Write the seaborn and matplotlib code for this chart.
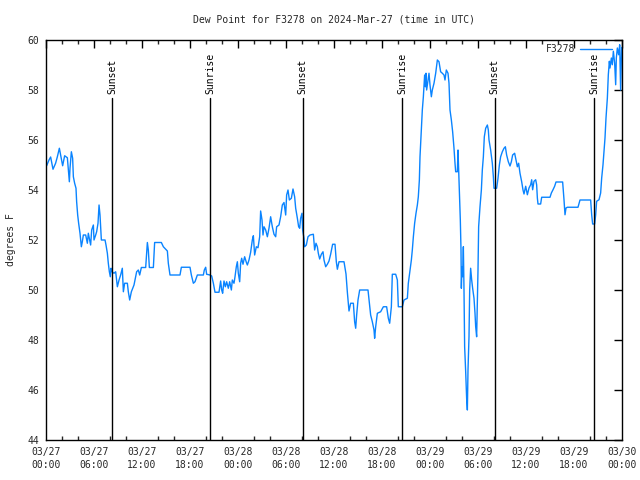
import matplotlib
matplotlib.use("Agg")
import matplotlib.pyplot as plt
import seaborn as sns
import pandas as pd

# hours since 2024-03-27 00:00 UTC
hours = [0.08, 0.375, 0.58, 0.875, 1.2, 1.42, 1.67, 1.83, 2.08, 2.33, 2.67, 2.92, 3.0, 3.17, 3.33, 3.42, 3.58, 3.75,
         3.83, 3.96, 4.08, 4.25, 4.42, 4.54, 4.67, 4.96, 5.17, 5.29, 5.58, 5.71, 5.92, 6.0, 6.21, 6.33, 6.5, 6.63,
         6.75, 6.92, 7.38, 7.5, 7.67, 7.79, 7.92, 8.04, 8.13, 8.25, 8.5, 8.71, 8.92, 9.13, 9.33, 9.54, 9.67, 9.83,
         10.17, 10.29, 10.46, 10.67, 11.0, 11.33, 11.54, 11.71, 11.92, 12.46, 12.67, 12.79, 12.92, 13.42, 13.58,
         14.42, 14.67,
         15.17, 15.29, 15.5, 16.75, 16.92, 18.0, 18.17, 18.42, 18.625, 18.92, 19.67, 19.79, 19.96, 20.08, 20.5,
         20.71, 20.92, 21.125, 21.625, 21.83, 21.96, 22.08, 22.25, 22.42, 22.58, 22.79, 22.96, 23.17, 23.29, 23.5,
         23.625, 23.79, 23.92, 24.04, 24.21, 24.33, 24.46, 24.625, 24.83, 25.04, 25.17, 25.375, 25.58, 25.79,
         25.92, 26.08, 26.29, 26.5, 26.71, 26.83, 27.0, 27.125, 27.25, 27.46, 27.67, 27.875, 28.08, 28.29, 28.5,
         28.71, 28.83, 29.125, 29.33, 29.54,
         29.75, 29.96, 30.08, 30.25, 30.42, 30.67, 30.875, 31.08, 31.21, 31.42, 31.58, 31.71, 31.83, 32.0, 32.08,
         32.25, 32.33, 32.54, 32.75, 33.0, 33.42, 33.58, 33.75, 33.92, 34.04, 34.21, 34.42, 34.625, 34.75, 34.96,
         35.17, 35.375, 35.58, 35.83, 36.125, 36.29, 36.42, 36.625, 37.25, 37.5, 37.67, 37.875, 38.08, 38.42,
         38.58, 38.71, 38.83, 39.0, 39.21, 40.25, 40.42, 40.58, 40.79, 41.0, 41.08, 41.21, 41.42, 41.83, 42.17,
         42.58, 42.79, 42.96, 43.17, 43.29, 43.71, 43.92, 44.04, 44.54,
         44.75, 45.17, 45.29, 45.5, 45.67, 45.79, 45.92, 46.08, 46.25, 46.42, 46.54, 46.67, 46.75, 46.92, 47.04,
         47.17, 47.33, 47.42, 47.5, 47.58, 47.75, 47.875, 48.0, 48.17, 48.29, 48.5, 48.71, 48.92, 49.125, 49.33,
         49.54, 49.75, 49.875, 50.04, 50.25, 50.375, 50.5, 50.67, 50.83, 51.0, 51.125, 51.21, 51.42, 51.5, 51.58,
         51.67, 51.79, 51.875, 51.92, 52.0, 52.08, 52.17, 52.25, 52.33, 52.46, 52.58, 52.67, 52.75, 52.875, 52.96,
         53.08, 53.21, 53.33, 53.5, 53.625, 53.71, 53.83, 53.92, 54.0, 54.08, 54.25, 54.42, 54.54, 54.67, 54.79,
         54.96, 55.17, 55.29, 55.375, 55.58, 55.79, 55.92, 56.0, 56.33, 56.5, 56.67, 56.83, 57.04, 57.25, 57.42,
         57.58, 57.79, 58.0, 58.17, 58.33, 58.58, 58.75, 58.92, 59.08, 59.25, 59.46, 59.625,
         59.75, 59.96, 60.17, 60.375, 60.58, 60.71, 60.83, 61.0, 61.21, 61.33, 61.42, 61.5, 61.83, 61.96, 63.0,
         63.17, 63.375, 63.58, 63.75, 64.58, 64.75, 64.875, 65.0, 65.17, 66.5, 66.75, 68.08, 68.21, 68.33, 68.58,
         68.71, 68.83, 69.125, 69.33, 69.46, 69.625, 69.75, 69.875, 70.0, 70.17, 70.29, 70.42, 70.5, 70.67, 70.79,
         70.92, 71.08, 71.21, 71.29, 71.42, 71.58, 71.71, 71.83, 71.95]

dewpoint = [54.97, 55.2, 55.32, 54.83, 55.07, 55.33, 55.67, 55.4, 54.97, 55.37, 55.29, 54.33, 54.87, 55.53, 55.27,
            54.53, 54.27, 54.07, 53.53, 53.0, 52.67, 52.27, 51.73, 51.93, 52.2, 52.2, 51.87, 52.27, 51.8, 52.4,
            52.6, 52.0, 52.2, 52.33, 52.67, 53.4, 53.0, 52.0, 52.0, 51.8, 51.47, 51.07, 50.73, 50.53, 50.87, 50.73,
            50.67, 50.73, 50.13, 50.4, 50.6, 50.87, 49.93, 50.27, 50.27, 49.93, 49.6, 49.93, 50.2, 50.73, 50.8,
            50.6, 50.9, 50.9, 51.9, 51.6, 50.9, 50.9, 51.9, 51.9, 51.73,
            51.56, 51.07, 50.6, 50.6, 50.91, 50.91, 50.6, 50.27, 50.33, 50.6, 50.6, 50.8, 50.91, 50.63, 50.6,
            50.56, 50.27, 49.91, 49.91, 50.36, 50.0, 49.87, 50.36, 50.13, 50.33, 50.07, 50.33, 50.0, 50.4, 50.27,
            50.53, 50.93, 51.13, 50.67, 50.33, 51.07, 51.27, 51.03, 51.33, 51.11, 51.0, 51.2, 51.51, 52.0,
            52.17, 51.4, 51.73, 51.69, 52.13, 53.16, 52.8, 52.2, 52.53, 52.4, 52.13, 52.47, 52.93, 52.53, 52.23,
            52.13, 52.53, 52.6, 52.93, 53.4,
            53.5, 53.0, 53.8, 54.0, 53.6, 53.67, 54.04, 53.73, 53.27, 52.87, 52.53, 52.47, 52.87, 53.07, 52.4,
            52.07, 51.73, 51.8, 52.13, 52.2, 52.23, 51.6, 51.87, 51.73, 51.47, 51.24, 51.43, 51.53, 51.2, 50.93,
            51.03, 51.16, 51.43, 51.83, 51.83, 51.13, 50.83, 51.13, 51.13, 50.64, 49.91, 49.16, 49.47, 49.47,
            48.73, 48.47, 49.0, 49.6, 50.0, 50.0, 49.47, 49.0, 48.73, 48.4, 48.07, 48.53, 49.07, 49.13, 49.33,
            49.33, 48.87, 48.67, 49.33, 50.63, 50.63, 50.4, 49.33, 49.33,
            49.6, 49.67, 50.27, 50.8, 51.2, 51.6, 52.13, 52.67, 53.07, 53.4, 53.73, 54.4, 55.33, 56.4, 57.2,
            57.73, 58.6, 58.13, 58.67, 58.0, 58.4, 58.67, 58.2, 57.73, 58.0, 58.27, 58.67, 59.2, 59.13, 58.73,
            58.67, 58.6, 58.4, 58.8, 58.67, 58.27, 57.2, 56.8, 56.33, 55.67, 55.07, 54.73, 54.73, 55.6, 54.8,
            54.0, 52.8, 51.6, 50.07, 50.93, 50.53, 51.73, 50.0, 47.73, 46.73, 45.67, 45.2, 46.8, 48.13, 50.0,
            50.87, 50.4, 50.07, 49.67, 49.07, 48.53, 48.13, 49.47, 50.8, 52.53, 53.33, 54.0, 54.8, 55.33, 56.13,
            56.47, 56.6, 56.4, 56.0, 55.6, 55.07, 54.53, 54.07, 54.07, 54.47, 55.0, 55.33, 55.53, 55.67, 55.73,
            55.4, 55.13, 54.96, 55.13, 55.4, 55.47, 55.2, 54.93, 55.07, 54.67, 54.33, 54.0,
            53.84, 54.15, 53.81, 54.08, 54.21, 54.41, 54.01, 54.35, 54.41, 54.21, 53.68, 53.44, 53.44, 53.71, 53.71,
            53.88, 54.01, 54.15, 54.32, 54.32, 53.61, 53.01, 53.28, 53.31, 53.31, 53.6, 53.6, 53.01, 52.64, 52.64,
            53.01, 53.55, 53.61, 53.88, 54.48, 55.01, 55.55, 56.08, 56.88, 57.68, 58.61, 59.15, 58.88, 59.28, 59.01,
            59.55, 59.08, 58.21, 59.28, 59.68, 59.41, 59.81, 58.0, 59.7]

sun_events = ["Sunset", "Sunrise", "Sunset", "Sunrise", "Sunset", "Sunrise"]
sun_hours = [8.25, 20.5, 32.1, 44.5, 56.1, 68.5]

xtick_hours = [0, 6, 12, 18, 24, 30, 36, 42, 48, 54, 60, 66, 72]
xtick_labels = ["03/27\n00:00", "03/27\n06:00", "03/27\n12:00", "03/27\n18:00",
                "03/28\n00:00", "03/28\n06:00", "03/28\n12:00", "03/28\n18:00",
                "03/29\n00:00", "03/29\n06:00", "03/29\n12:00", "03/29\n18:00",
                "03/30\n00:00"]
ytick_values = [44, 46, 48, 50, 52, 54, 56, 58, 60]

sns.set_style("white")
plt.rcParams['font.family'] = ['DejaVu Sans Mono', 'DejaVu Sans']
FS = 7

df = pd.DataFrame({"hour": hours, "dew": dewpoint})

fig = plt.figure(figsize=(6.4, 4.8), dpi=100)
ax = fig.add_axes([46 / 640, 40 / 480, 576 / 640, 400 / 480])
sns.lineplot(data=df, x="hour", y="dew", ax=ax, color="#0a84ff", linewidth=1.0,
             label="F3278", estimator=None, sort=False)

ax.set_xlim(0, 72)
ax.set_ylim(44, 60)

for h, name in zip(sun_hours, sun_events):
    ax.plot([h, h], [44, 57.68], color="black", linewidth=1.0)
    ax.text(h, 57.86, name, rotation=90, ha="center", va="bottom", fontsize=FS, color="black")

ax.set_xticks(xtick_hours)
ax.set_xticklabels(xtick_labels, fontsize=FS, linespacing=1.35)
ax.set_xticks([h for h in range(0, 73, 2) if h % 6 != 0], minor=True)
ax.set_yticks(ytick_values)
ax.set_yticklabels([str(v) for v in ytick_values], fontsize=FS)
ax.tick_params(axis="both", which="major", direction="in", length=6, width=1,
               top=True, right=True, color="black", pad=5)
ax.tick_params(axis="x", which="minor", direction="in", length=3, width=1,
               top=True, bottom=True)
for s in ax.spines.values():
    s.set_color("black")
    s.set_linewidth(1)

ax.set_xlabel("")
ax.set_ylabel("degrees F", fontsize=FS)
ax.yaxis.set_label_coords(-0.052, 0.5)

leg = ax.legend(loc="upper right", bbox_to_anchor=(1 - 10 / 576, 1 - 4 / 400), frameon=False,
                fontsize=FS, markerfirst=False, handlelength=3.3, borderaxespad=0.0,
                borderpad=0.0, handletextpad=0.5)

fig.text(334 / 640, 1 - 19 / 480, "Dew Point for F3278 on 2024-Mar-27 (time in UTC)",
         ha="center", va="center", fontsize=FS)

fig.savefig("out.png", dpi=100)
